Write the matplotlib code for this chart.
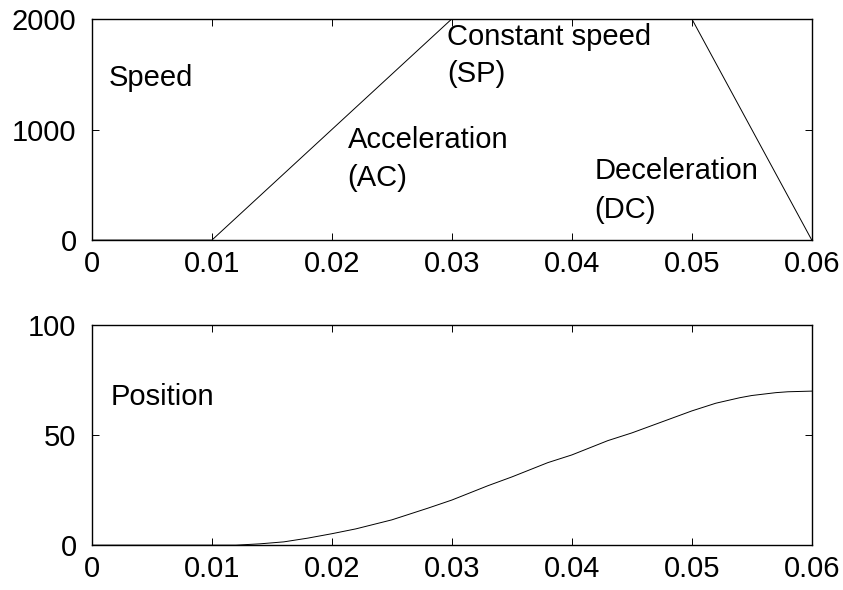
import matplotlib
matplotlib.use('Agg')
import matplotlib.pyplot as plt

plt.rcParams['font.family'] = ['Liberation Sans', 'DejaVu Sans']
plt.rcParams['font.size'] = 21

# speed profile (top)
t_speed = [0, 0.01, 0.03, 0.05, 0.06]
speed = [0, 0, 2000, 2000, 0]

# position (bottom)
t_pos = [0, 0.012, 0.014, 0.016, 0.018, 0.020, 0.022, 0.025, 0.028,
         0.030, 0.033, 0.035, 0.038, 0.040, 0.043, 0.045, 0.048, 0.050,
         0.052, 0.054, 0.055, 0.057, 0.058, 0.060]
position = [0, 0, 0.6, 1.5, 3.2, 5.2, 7.4, 11.5, 16.8,
            20.5, 27.0, 31.0, 37.5, 41.0, 47.5, 51.0, 57.0, 61.0,
            64.5, 67.0, 68.0, 69.3, 69.7, 70.0]

fig = plt.figure(figsize=(8.43, 5.90), dpi=100)
ax1 = fig.add_axes([0.109, 0.593, 0.854, 0.375])
ax2 = fig.add_axes([0.109, 0.076, 0.854, 0.373])

ax1.plot(t_speed, speed, color='black', linewidth=0.7)
ax1.set_xlim(0, 0.06)
ax1.set_ylim(0, 2000)
ax1.set_yticks([0, 1000, 2000])

# labels placed on the baseline
fs = 21
ax1.text(0.0014, 1391, 'Speed', va='baseline', ha='left', fontsize=fs)
ax1.text(0.0213, 831, 'Acceleration', va='baseline', ha='left', fontsize=fs)
ax1.text(0.0213, 488, '(AC)', va='baseline', ha='left', fontsize=fs)
ax1.text(0.0296, 1761, 'Constant speed', va='baseline', ha='left', fontsize=fs)
ax1.text(0.0296, 1427, '(SP)', va='baseline', ha='left', fontsize=fs)
ax1.text(0.0419, 551, 'Deceleration', va='baseline', ha='left', fontsize=fs)
ax1.text(0.0419, 199, '(DC)', va='baseline', ha='left', fontsize=fs)

ax2.plot(t_pos, position, color='black', linewidth=0.7)
ax2.set_xlim(0, 0.06)
ax2.set_ylim(0, 100)
ax2.set_yticks([0, 50, 100])
ax2.text(0.0016, 63.6, 'Position', va='baseline', ha='left', fontsize=fs)

for ax in (ax1, ax2):
    ax.set_xticks([0, 0.01, 0.02, 0.03, 0.04, 0.05, 0.06])
    ax.set_xticklabels(['0', '0.01', '0.02', '0.03', '0.04', '0.05', '0.06'])
    ax.tick_params(direction='in', top=True, right=True, length=5, width=0.7,
                   labelsize=21)
    ax.tick_params(axis='x', pad=7)
    ax.tick_params(axis='y', pad=11)
    for s in ax.spines.values():
        s.set_linewidth(1.0)

fig.savefig('out.png', dpi=100, facecolor='white')
